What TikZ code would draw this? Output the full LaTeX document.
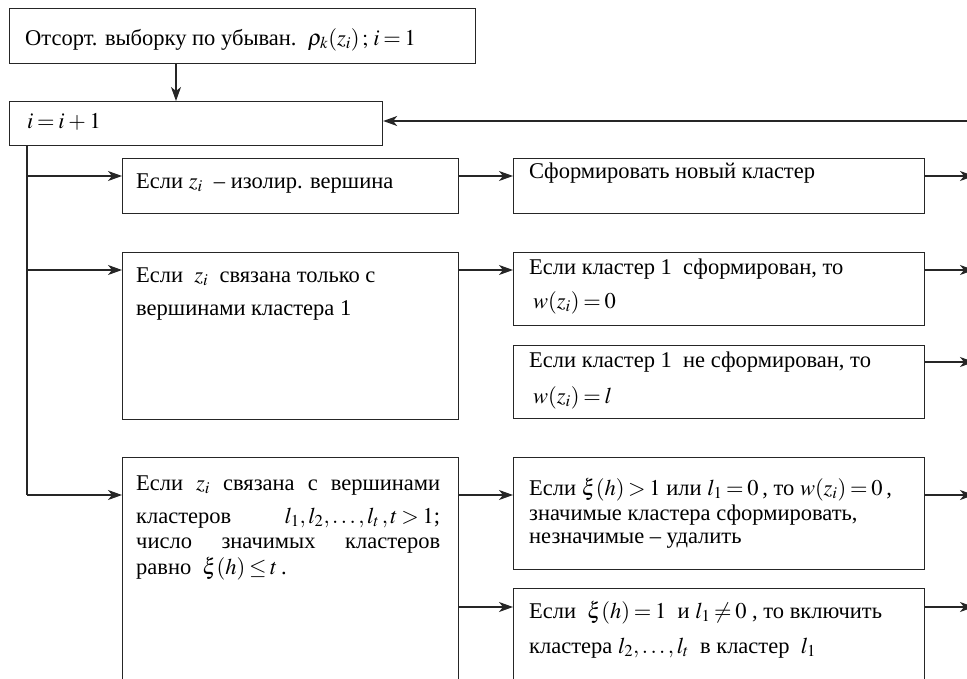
\documentclass[tikz,border=0pt]{standalone}
\usepackage{mathptmx}
\usepackage{fontspec}
\setmainfont{Liberation Serif}
\usetikzlibrary{arrows.meta}

\tikzset{
  blk/.style 2 args={draw=black!85, line width=1.2pt, anchor=north west, inner sep=0pt,
                     minimum width=#1pt, minimum height=#2pt},
  txt/.style={anchor=base west, inner sep=0pt, font=\fontsize{22.5}{25}\selectfont},
  ln/.style={draw=black!85, line width=1.2pt},
  arr/.style={ln, -{Stealth[length=14pt,width=10pt,inset=4pt]}},
}
\thickmuskip=3mu plus 2mu
\medmuskip=3mu plus 1mu

\begin{document}
\begin{tikzpicture}[x=1pt,y=-1pt]
        \useasboundingbox (0,0) rectangle (967,678);
        \clip (0,0) rectangle (967,678);

        \node [blk={466}{55}]  (sortbox)   at (9,8)     {};        %sort
        \node [blk={373}{44}]  (incbox)    at (9,101)   {};        %i+1
        \node [blk={336}{55}]  (isol)      at (122,158) {};        %isolated
        \node [blk={336}{167}] (only1)     at (122,252) {};        %cluster 1
        \node [blk={336}{260}] (many)      at (122,457) {};        %clusters l1..lt
        \node [blk={411}{55}]  (newcl)     at (513,158) {};        %
        \node [blk={411}{73}]  (formed)    at (513,252) {};        %
        \node [blk={411}{73}]  (notformed) at (513,345) {};        %
        \node [blk={411}{112}] (signif)    at (513,457) {};        %
        \node [blk={411}{120}] (merge)     at (513,588) {};        %

        \node [txt] (sortt) at ([shift={(16,37)}]sortbox.north west)
              {Отсорт. выборку по убыван.\ \ $\rho_k(z_i)\,;\,i=1$};
        \node [txt] (inct)  at ([shift={(18,27)}]incbox.north west) {$i=i+1$};
        \node [txt] (isolt) at ([shift={(14,30)}]isol.north west)
              {Если $z_i$\ \ – изолир. вершина};
        \node [txt] (only1t) at ([shift={(14,30)}]only1.north west)
              {\parbox[t]{310pt}{Если\ \ $z_i$\ \ связана только с\\[8pt]
               вершинами кластера\ 1}};
        \node [txt] (manyt) at ([shift={(14,33)}]many.north west)
              {\parbox[t]{304pt}{Если\hfill $z_i$\hfill связана\hfill с\hfill вершинами\\[8pt]
               кластеров\hfill $l_1,l_2,\ldots,l_t\,,t>1$;\\
               число\hfill значимых\hfill кластеров\\[1pt]
               равно\ \ $\xi(h)\le t$\,.}};
        \node [txt] (newclt) at ([shift={(16,20)}]newcl.north west)
              {Сформировать новый кластер};
        \node [txt] (formedt) at ([shift={(16,22)}]formed.north west)
              {\parbox[t]{390pt}{Если кластер\ 1\ \ сформирован, то\\[9pt]
               \hspace*{4pt}$w(z_i)=0$}};
        \node [txt] (notformedt) at ([shift={(16,22)}]notformed.north west)
              {\parbox[t]{390pt}{Если кластер\ 1\ \ не сформирован, то\\[11pt]
               \hspace*{4pt}$w(z_i)=l$}};
        \node [txt] (signift) at ([shift={(16,38)}]signif.north west)
              {\parbox[t]{395pt}{Если\ $\xi(h)>1$\ или\ $l_1=0$\,, то\ $w(z_i)=0$\,,\\
               значимые кластера сформировать,\\[-2pt]
               незначимые – удалить}};
        \node [txt] (merget) at ([shift={(16,30)}]merge.north west)
              {\parbox[t]{395pt}{Если\ \ $\xi(h)=1$\ \ и $l_1\ne 0$\ , то включить\\[10pt]
               кластера $l_2,\ldots,l_t$\ \ в кластер\ \ $l_1$}};

        % levels of the branches
        \coordinate (down)  at (176,0);
        \coordinate (trunk) at (27,495);
        \coordinate (edge)  at (974,0);
        \coordinate (loop)  at (967,121);
        \coordinate (ya) at (0,176);
        \coordinate (yb) at (0,270);
        \coordinate (yc) at (0,362);
        \coordinate (yd) at (0,495);
        \coordinate (ye) at (0,607);

        \draw [arr] (sortbox.south -| down) -- (incbox.north -| down);   %
        \draw [arr] (loop) -- (incbox.east |- loop);                      %back
        \draw [ln]  (incbox.south -| trunk) -- (trunk);                   %
        \draw [arr] (trunk |- ya) -- (isol.west |- ya);                   %
        \draw [arr] (trunk |- yb) -- (only1.west |- yb);                  %
        \draw [arr] (trunk) -- (many.west |- yd);                         %
        \draw [arr] (isol.east |- ya)  -- (newcl.west |- ya);             %
        \draw [arr] (only1.east |- yb) -- (formed.west |- yb);            %
        \draw [arr] (many.east |- yd)  -- (signif.west |- yd);            %
        \draw [arr] (many.east |- ye)  -- (merge.west |- ye);             %
        \foreach \b/\y in {newcl/ya,formed/yb,notformed/yc,signif/yd,merge/ye}
          \draw [arr] (\b.east |- \y) -- (edge |- \y);                    %out
\end{tikzpicture}
\end{document}
